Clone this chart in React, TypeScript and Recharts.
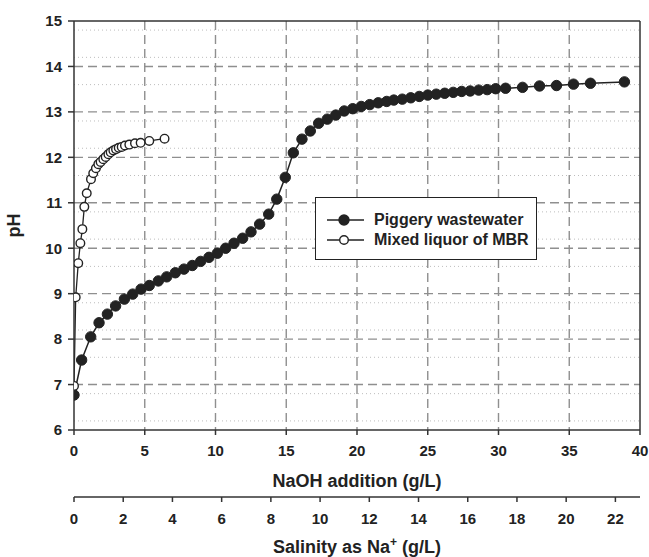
import React from "react";
import {
  ComposedChart,
  Line,
  XAxis,
  YAxis,
  CartesianGrid,
  ReferenceLine,
  Legend,
} from "recharts";

// NaOH addition (g/L) vs pH
const pigNaoh = [
  0, 0.54, 1.18, 1.77, 2.36, 2.94, 3.56, 4.15, 4.74, 5.32, 5.96, 6.55, 7.16, 7.77, 8.36, 8.95,
  9.54, 10.13, 10.72, 11.31, 11.92, 12.51, 13.12, 13.76, 14.33, 14.93, 15.5, 16.11, 16.7, 17.29,
  17.9, 18.5, 19.1, 19.7, 20.3, 20.9, 21.5, 22.1, 22.6, 23.2, 23.8, 24.4, 25.0, 25.6, 26.2, 26.8,
  27.4, 28.0, 28.6, 29.2, 29.8, 30.5, 31.7, 32.9, 34.1, 35.3, 36.5, 38.9,
];
const pigPh = [
  6.77, 7.54, 8.05, 8.36, 8.55, 8.73, 8.88, 8.99, 9.1, 9.18, 9.28, 9.37, 9.46, 9.54, 9.62, 9.71,
  9.8, 9.89, 10.0, 10.11, 10.22, 10.36, 10.53, 10.75, 11.08, 11.56, 12.1, 12.4, 12.58, 12.75,
  12.84, 12.93, 13.02, 13.07, 13.12, 13.16, 13.2, 13.23, 13.26, 13.28, 13.31, 13.34, 13.37, 13.39,
  13.41, 13.43, 13.45, 13.46, 13.48, 13.49, 13.51, 13.52, 13.54, 13.57, 13.58, 13.61, 13.63, 13.66,
];

const mbrNaoh = [
  0, 0.12, 0.3, 0.45, 0.59, 0.73, 0.9, 1.2, 1.36, 1.55, 1.72, 1.88, 2.07, 2.24, 2.43, 2.59, 2.78,
  2.97, 3.16, 3.37, 3.6, 3.91, 4.31, 4.71, 5.32, 6.4,
];
const mbrPh = [
  6.97, 8.92, 9.67, 10.11, 10.42, 10.91, 11.21, 11.52, 11.65, 11.76, 11.85, 11.9, 11.96, 12.01,
  12.07, 12.11, 12.15, 12.18, 12.21, 12.23, 12.26, 12.28, 12.31, 12.32, 12.36, 12.41,
];

const naohTicks = [0, 5, 10, 15, 20, 25, 30, 35, 40];
const naTicks = [0, 2, 4, 6, 8, 10, 12, 14, 16, 18, 20, 22];
const phTicks = [6, 7, 8, 9, 10, 11, 12, 13, 14, 15];

// Na+ from NaOH: 23/40 of the NaOH mass
const NA_PER_NAOH = 23 / 40;

const pigData = pigNaoh.map((x, i) => ({ x, na: x * NA_PER_NAOH, ph: pigPh[i] }));
const mbrData = mbrNaoh.map((x, i) => ({ x, ph: mbrPh[i] }));

// minor dotted grid every 0.2 pH
const minorPh: number[] = [];
for (let v = 6; v < 15; v += 1) {
  [0.2, 0.4, 0.6, 0.8].forEach((d) => minorPh.push(+(v + d).toFixed(1)));
}

const FONT = "'Liberation Sans', Arial, sans-serif";
const tickStyle = { fontFamily: FONT, fontWeight: 700, fontSize: 15, fill: "#222" };

const FilledDot = (p: any) => (
  <circle cx={p.cx} cy={p.cy} r={5.2} fill="#222" stroke="#222" strokeWidth={1} />
);
const OpenDot = (p: any) => (
  <circle cx={p.cx} cy={p.cy} r={4.3} fill="#fff" stroke="#222" strokeWidth={1.4} />
);

const LegendBox = () => (
  <div
    style={{
      border: "1.5px solid #222",
      background: "#fff",
      width: 222,
      height: 63,
      boxSizing: "border-box",
      padding: "12px 0 0 11px",
      fontFamily: FONT,
      fontWeight: 700,
      fontSize: 16,
      color: "#222",
      textAlign: "left",
    }}
  >
    {[
      { name: "Piggery wastewater", fill: "#222" },
      { name: "Mixed liquor of MBR", fill: "#fff" },
    ].map((e) => (
      <div key={e.name} style={{ display: "flex", alignItems: "center", height: 20 }}>
        <svg width={38} height={14} style={{ marginRight: 9 }}>
          <line x1={0} y1={7} x2={37} y2={7} stroke="#222" strokeWidth={1.5} />
          <circle cx={17} cy={7} r={e.fill === "#fff" ? 4.3 : 5} fill={e.fill} stroke="#222" strokeWidth={1.4} />
        </svg>
        <span style={{ lineHeight: "20px" }}>{e.name}</span>
      </div>
    ))}
  </div>
);

const NaLabel = (props: any) => {
  const vb = props.viewBox || {};
  const cx = vb.x + vb.width / 2;
  return (
    <text
      x={cx}
      y={553}
      textAnchor="middle"
      fontFamily={FONT}
      fontWeight={700}
      fontSize={18}
      fill="#222"
    >
      Salinity as Na
      <tspan fontSize={12} dy={-7}>+</tspan>
      <tspan dy={7}> (g/L)</tspan>
    </text>
  );
};

export default function App() {
  return (
    <div style={{ position: "fixed", left: 0, top: 0, width: 649, height: 557, background: "#fff" }}>
      <ComposedChart
        width={649}
        height={557}
        margin={{ top: 21, right: 9, left: 0, bottom: 0 }}
      >
        <CartesianGrid
          xAxisId="x1"
          yAxisId="ph"
          horizontalValues={minorPh}
          vertical={false}
          stroke="#bdbdbd"
          strokeDasharray="1 3"
        />
        <CartesianGrid
          xAxisId="x1"
          yAxisId="ph"
          horizontalValues={[7, 8, 9, 10, 11, 12, 13, 14]}
          verticalValues={[5, 10, 15, 20, 25, 30, 35]}
          stroke="#8f8f8f"
          strokeWidth={1.4}
          strokeDasharray="9 5"
        />
        <XAxis
          xAxisId="x1"
          type="number"
          dataKey="x"
          domain={[0, 40]}
          ticks={naohTicks}
          allowDataOverflow
          height={67}
          tickSize={5}
          tickMargin={10}
          tick={tickStyle}
          axisLine={{ stroke: "#333", strokeWidth: 1.5 }}
          tickLine={{ stroke: "#333", strokeWidth: 1.5 }}
          label={{
            value: "NaOH addition (g/L)",
            position: "insideBottom",
            offset: 10,
            style: { fontFamily: FONT, fontWeight: 700, fontSize: 18, fill: "#222" },
          }}
        />
        <XAxis
          xAxisId="x2"
          type="number"
          dataKey="na"
          domain={[0, 23]}
          ticks={naTicks}
          allowDataOverflow
          height={60}
          tickSize={5}
          tickMargin={11}
          tick={tickStyle}
          axisLine={{ stroke: "#333", strokeWidth: 1.5 }}
          tickLine={{ stroke: "#333", strokeWidth: 1.5 }}
          label={<NaLabel />}
        />
        <YAxis
          yAxisId="ph"
          type="number"
          domain={[6, 15]}
          ticks={phTicks}
          allowDataOverflow
          width={74}
          tickSize={6}
          tickMargin={6}
          tick={tickStyle}
          axisLine={{ stroke: "#333", strokeWidth: 1.5 }}
          tickLine={{ stroke: "#333", strokeWidth: 1.5 }}
          label={{
            value: "pH",
            angle: -90,
            position: "insideLeft",
            offset: 14,
            style: { fontFamily: FONT, fontWeight: 700, fontSize: 18, fill: "#222", textAnchor: "middle" },
          }}
        />
        <ReferenceLine xAxisId="x1" yAxisId="ph" y={15} stroke="#333" strokeWidth={1.5} />
        <ReferenceLine xAxisId="x1" yAxisId="ph" x={40} stroke="#333" strokeWidth={1.5} />
        {/* same piggery series against the salinity scale, kept invisible so the axis has data */}
        <Line
          xAxisId="x2"
          yAxisId="ph"
          data={pigData}
          dataKey="ph"
          stroke="none"
          dot={false}
          activeDot={false}
          legendType="none"
          isAnimationActive={false}
        />
        <Line
          xAxisId="x1"
          yAxisId="ph"
          data={pigData}
          dataKey="ph"
          name="Piggery wastewater"
          type="linear"
          stroke="#222"
          strokeWidth={1.5}
          dot={<FilledDot />}
          activeDot={false}
          isAnimationActive={false}
        />
        <Line
          xAxisId="x1"
          yAxisId="ph"
          data={mbrData}
          dataKey="ph"
          name="Mixed liquor of MBR"
          type="linear"
          stroke="#222"
          strokeWidth={1.3}
          dot={<OpenDot />}
          activeDot={false}
          isAnimationActive={false}
        />
        <Legend
          layout="horizontal"
          verticalAlign="middle"
          align="center"
          content={<LegendBox />}
          wrapperStyle={{ position: "absolute", left: 315, top: 197, width: 222, height: 63 }}
        />
      </ComposedChart>
    </div>
  );
}
